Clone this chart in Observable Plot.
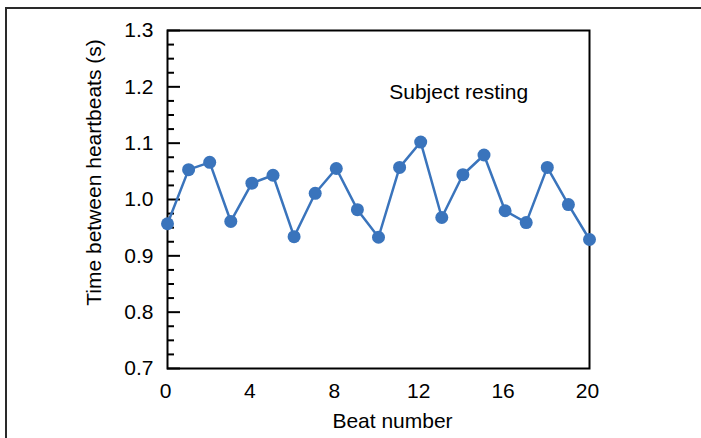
<!DOCTYPE html>
<html>
<head>
<meta charset="utf-8">
<script src="https://cdn.jsdelivr.net/npm/d3@7"></script>
<script src="https://cdn.jsdelivr.net/npm/@observablehq/plot@0.6"></script>
<style>
  html, body { margin: 0; padding: 0; background: #fff; }
  #wrap { position: relative; width: 701px; height: 438px; overflow: hidden; }
  #border { position: absolute; left: 5px; top: 7px; width: 900px; height: 900px;
            border-top: 2px solid #2a2a2a; border-left: 2px solid #2a2a2a; }
  #chart { position: absolute; left: 0; top: 0; }
</style>
</head>
<body>
<div id="wrap"><div id="border"></div><div id="chart"></div></div>
<script>
const beats = [0,1,2,3,4,5,6,7,8,9,10,11,12,13,14,15,16,17,18,19,20];
const intervals = [0.957,1.053,1.066,0.961,1.029,1.043,0.934,1.011,1.055,0.982,0.933,
                   1.057,1.102,0.968,1.044,1.079,0.980,0.959,1.057,0.991,0.929];
const xTicks = [0,4,8,12,16,20];
const yTicks = [0.7,0.8,0.9,1.0,1.1,1.2,1.3];
const yMinorTicks = d3.range(0, 25).map(i => 0.7 + i * 0.025).filter(v => Math.abs(Math.round(v * 10) - v * 10) > 1e-6);
const xLabel = "Beat number";
const yLabel = "Time between heartbeats (s)";
const annotation = "Subject resting";
const annotationPos = {x: 13.8, y: 1.19};

const data = beats.map((b, i) => ({beat: b, t: intervals[i]}));
const blue = "#3a74bc";
const fs = 21;

const chart = Plot.plot({
  width: 701,
  height: 438,
  marginLeft: 167,
  marginRight: 112,
  marginTop: 30,
  marginBottom: 70,
  style: {fontFamily: "Liberation Sans, Arial, sans-serif", fontSize: fs + "px", color: "#000", background: "transparent"},
  x: {domain: [0, 20]},
  y: {domain: [0.7, 1.3]},
  marks: [
    Plot.axisY(yMinorTicks, {tickSize: -7, text: null, strokeWidth: 2, label: null}),
    Plot.axisY(yTicks, {tickSize: -13, text: null, strokeWidth: 2, label: null}),
    Plot.axisY(yTicks, {tickSize: 0, tickPadding: 14, tickFormat: d3.format(".1f"), fontSize: fs, label: null}),
    Plot.axisX(xTicks, {tickSize: 0, tickPadding: 15, dx: -2, fontSize: fs, label: null}),
    Plot.frame({stroke: "#000", strokeWidth: 2}),
    Plot.line(data, {x: "beat", y: "t", stroke: blue, strokeWidth: 2.5}),
    Plot.dot(data, {x: "beat", y: "t", r: 6.5, fill: blue}),
    Plot.text([annotation], {x: annotationPos.x, y: annotationPos.y, text: d => d, fontSize: fs}),
    Plot.text([yLabel], {frameAnchor: "left", textAnchor: "middle", lineAnchor: "middle", rotate: -90, dx: -73, dy: -27, text: d => d, fontSize: fs}),
    Plot.text([xLabel], {frameAnchor: "bottom", textAnchor: "middle", lineAnchor: "middle", dx: 14, dy: 53, text: d => d, fontSize: fs})
  ]
});
document.getElementById("chart").appendChild(chart);
</script>
</body>
</html>
